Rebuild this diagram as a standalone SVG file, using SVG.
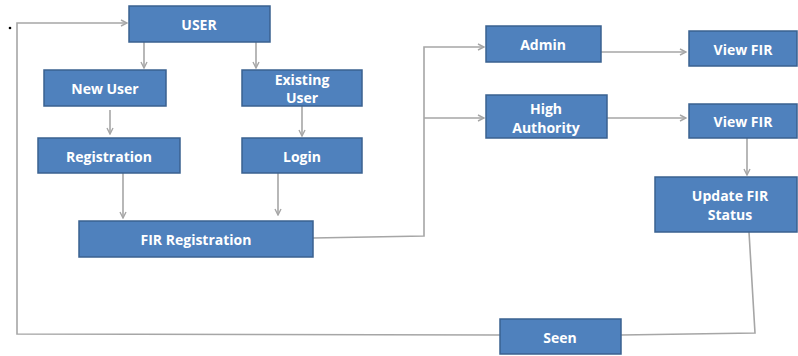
<svg xmlns="http://www.w3.org/2000/svg" width="798" height="356" viewBox="0 0 798 356">
<defs>
<style>
.n rect{fill:#4f81bd;stroke:#3a6190;stroke-width:1.5}
.n text{fill:#ffffff;font-family:"Open Sans","Liberation Sans",sans-serif;font-weight:bold;font-size:14px;text-anchor:middle;dominant-baseline:central}
.c path{fill:none;stroke:#a6a6a6;stroke-width:1.6}
</style>
<marker id="a" markerWidth="8" markerHeight="8" refX="7" refY="4" orient="auto" markerUnits="userSpaceOnUse">
<path d="M1,1 L7,4 L1,7" fill="none" stroke="#a6a6a6" stroke-width="1.4"/>
</marker>
</defs>
<rect width="798" height="356" fill="#ffffff"/>
<circle cx="10" cy="28" r="1.3" fill="#000000"/>
<g class="c">
<path d="M144,42 V68" marker-end="url(#a)"/>
<path d="M256,42 V68" marker-end="url(#a)"/>
<path d="M110,110 V134" marker-end="url(#a)"/>
<path d="M302,106 V136" marker-end="url(#a)"/>
<path d="M123,173 V218" marker-end="url(#a)"/>
<path d="M278,173 V215" marker-end="url(#a)"/>
<path d="M313,238 L424,236 V47 H484" marker-end="url(#a)"/>
<path d="M424,118 H484" marker-end="url(#a)"/>
<path d="M601,52 H686" marker-end="url(#a)"/>
<path d="M607,118 H686" marker-end="url(#a)"/>
<path d="M747,138 V175" marker-end="url(#a)"/>
<path d="M749,232 L755,333 L621,335"/>
<path d="M500,335 L17,334 V23 H127" marker-end="url(#a)"/>
</g>
<g id="user" class="n"><rect x="129" y="6" width="141" height="36"/><text x="199" y="24">USER</text></g>
<g id="newuser" class="n"><rect x="44" y="70" width="122" height="36"/><text x="105" y="88">New User</text></g>
<g id="existing" class="n"><rect x="242" y="70" width="120" height="36"/><text x="302" y="79">Existing</text><text x="302" y="97">User</text></g>
<g id="registration" class="n"><rect x="38" y="138" width="142" height="35"/><text x="109" y="156">Registration</text></g>
<g id="login" class="n"><rect x="242" y="138" width="120" height="35"/><text x="302" y="156">Login</text></g>
<g id="firreg" class="n"><rect x="79" y="221" width="234" height="36"/><text x="196" y="239">FIR Registration</text></g>
<g id="admin" class="n"><rect x="486" y="26" width="115" height="36"/><text x="543" y="44">Admin</text></g>
<g id="high" class="n"><rect x="486" y="95" width="121" height="43"/><text x="546" y="108">High</text><text x="546" y="127">Authority</text></g>
<g id="viewfir1" class="n"><rect x="689" y="31" width="108" height="35"/><text x="743" y="49">View FIR</text></g>
<g id="viewfir2" class="n"><rect x="689" y="104" width="108" height="34"/><text x="743" y="121">View FIR</text></g>
<g id="update" class="n"><rect x="655" y="177" width="142" height="55"/><text x="730" y="195">Update FIR</text><text x="730" y="214">Status</text></g>
<g id="seen" class="n"><rect x="500" y="319" width="121" height="35"/><text x="560" y="337">Seen</text></g>
</svg>
